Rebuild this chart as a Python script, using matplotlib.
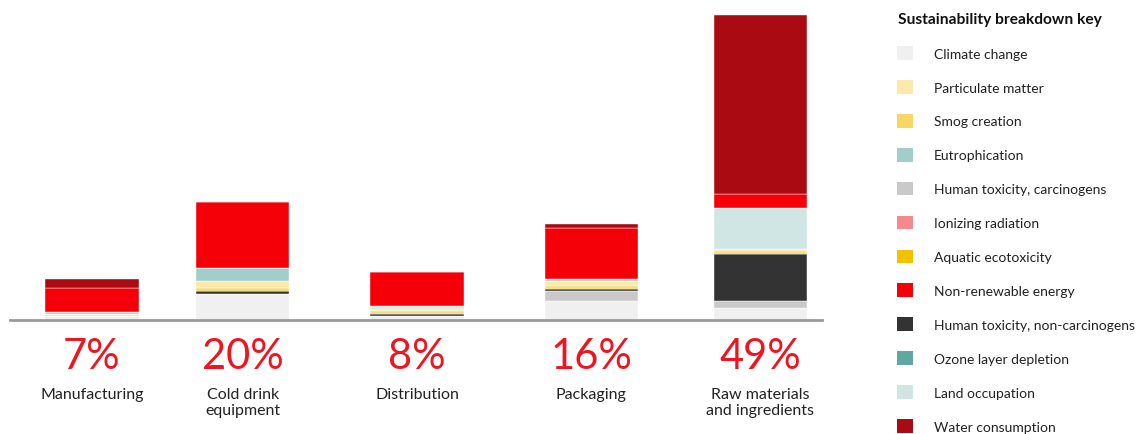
import matplotlib.pyplot as plt
from matplotlib.patches import Patch

plt.rcParams['font.family'] = ['Lato', 'DejaVu Sans']

# bars (left to right)
stages = ['Manufacturing', 'Cold drink\nequipment', 'Distribution', 'Packaging', 'Raw materials\nand ingredients']
shares = ['7%', '20%', '8%', '16%', '49%']

# impact values per category, one value per stage (relative units)
climate_change = [4, 26, 4, 19, 12]
human_tox_carc = [0, 0, 0, 10, 7]
human_tox_noncarc = [0, 3, 2, 2, 47]
aquatic_ecotox = [0, 0, 1, 1, 1]
smog_creation = [1, 3, 2, 2, 2]
particulate_matter = [1, 7, 2, 5, 2]
ozone_depletion = [0, 0, 0, 0, 0]
eutrophication = [2, 13, 1, 2, 0]
land_occupation = [0, 0, 2, 0, 41]
ionizing_radiation = [0, 0, 0, 0, 0]
non_renewable = [24, 66, 34, 51, 14]
water_consumption = [9, 0, 0, 4, 179]

# legend order
key_labels = ['Climate change', 'Particulate matter', 'Smog creation', 'Eutrophication',
              'Human toxicity, carcinogens', 'Ionizing radiation', 'Aquatic ecotoxicity',
              'Non-renewable energy', 'Human toxicity, non-carcinogens', 'Ozone layer depletion',
              'Land occupation', 'Water consumption']
key_colors = ['#f0f0f0', '#fbeaa9', '#f6d664', '#a1cdca', '#c9c9c9', '#f7888c', '#f2c200',
              '#f50008', '#333333', '#5fa8a1', '#d0e6e5', '#aa0a12']
color_of = dict(zip(key_labels, key_colors))

# stacking order, bottom to top
stack = [
    ('Climate change', climate_change),
    ('Human toxicity, carcinogens', human_tox_carc),
    ('Human toxicity, non-carcinogens', human_tox_noncarc),
    ('Aquatic ecotoxicity', aquatic_ecotox),
    ('Smog creation', smog_creation),
    ('Particulate matter', particulate_matter),
    ('Ozone layer depletion', ozone_depletion),
    ('Eutrophication', eutrophication),
    ('Land occupation', land_occupation),
    ('Ionizing radiation', ionizing_radiation),
    ('Non-renewable energy', non_renewable),
    ('Water consumption', water_consumption),
]

bar_pos = [0, 0.904, 1.946, 2.988, 4.0]

fig = plt.figure(figsize=(11.41, 4.35), dpi=100)
ax = fig.add_axes([10 / 1141, 114 / 435, 812 / 1141, 306 / 435])

bottom = [0] * len(stages)
for name, vals in stack:
    ax.bar(bar_pos, vals, width=0.557, bottom=bottom, color=color_of[name],
           edgecolor='white', linewidth=0.3)
    bottom = [b + v for b, v in zip(bottom, vals)]

ax.set_xlim(-0.491, 4.371)
ax.set_ylim(0, 306)
for s in ['top', 'right', 'left']:
    ax.spines[s].set_visible(False)
ax.spines['bottom'].set_color('#9a9a9a')
ax.spines['bottom'].set_linewidth(2)
ax.set_xticks([])
ax.set_yticks([])

for x, pct, lab in zip(bar_pos, shares, stages):
    ax.text(x, -36, pct, ha='center', va='center', fontsize=30, color='#f0141e',
            clip_on=False)
    ax.text(x, -67, lab, ha='center', va='top', fontsize=11.5, color='#222222',
            linespacing=1.2, clip_on=False)

handles = [Patch(facecolor=c, edgecolor='none') for c in key_colors]
leg = fig.legend(handles, key_labels, loc='upper left', bbox_to_anchor=(897 / 1141, 1 - 47 / 435),
                 frameon=False, fontsize=10, handlelength=1.15, handleheight=1.15,
                 handletextpad=1.5, labelspacing=1.45, borderaxespad=0, borderpad=0)
for t in leg.get_texts():
    t.set_color('#222222')
fig.text(898 / 1141, 1 - 20 / 435, 'Sustainability breakdown key', ha='left', va='center',
         fontsize=11.2, fontweight='bold', color='#111111')

fig.savefig('out.png', dpi=100)
